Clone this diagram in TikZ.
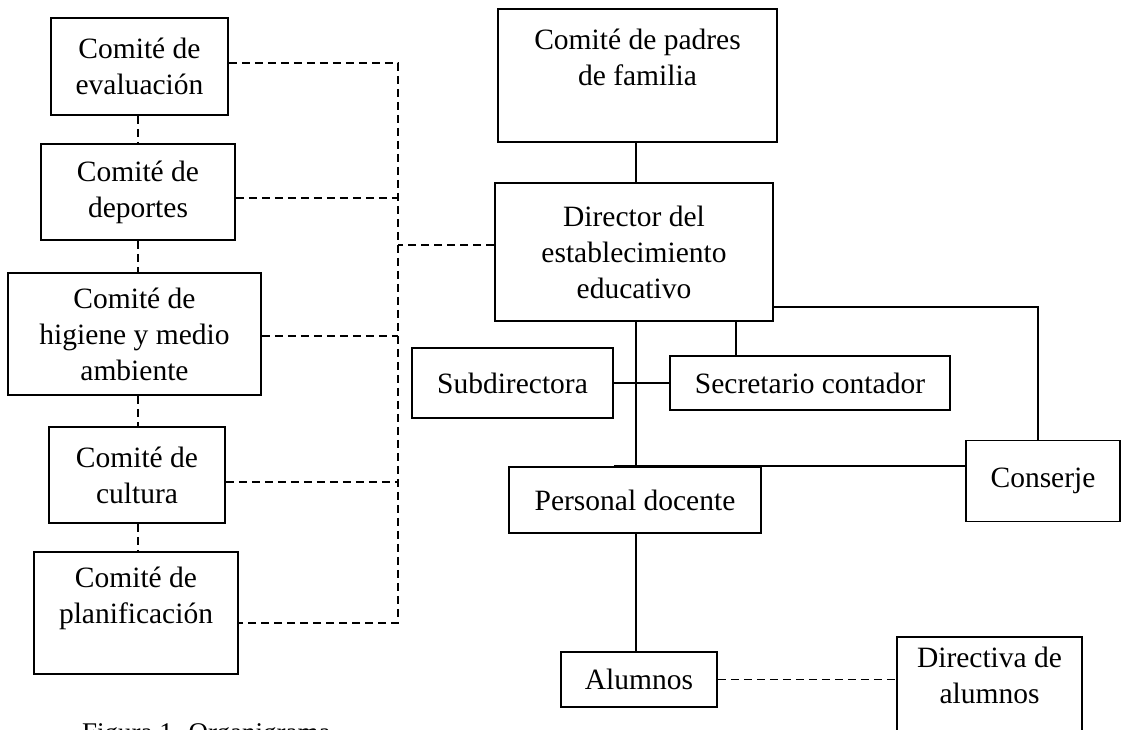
\documentclass[tikz,border=0pt]{standalone}
\usepackage{fontspec}
\setmainfont{Liberation Serif}
\usetikzlibrary{positioning,calc}

\begin{document}
\begin{tikzpicture}[x=1pt,y=-1pt,
    box/.style={draw, line width=1.9pt, align=center, inner sep=0pt, font=\fontsize{29.5}{36}\selectfont},
    sline/.style={line width=2pt},
    dline/.style={line width=1.7pt, dash pattern=on 8pt off 5pt}]
    \useasboundingbox (0,0) rectangle (1138,729);
    \clip (0,0) rectangle (1138,729);

    % Comites (izquierda)
    \node[box, minimum width=177, minimum height=97] (eval) at (139.5,66.5) {Comité de\\evaluación};
    \node[box, minimum width=194, minimum height=96] (dep) at (138,192) {Comité de\\deportes};
    \node[box, minimum width=253, minimum height=122] (hig) at (134.5,334) {Comité de\\higiene y medio\\ambiente};
    \node[box, minimum width=176, minimum height=96] (cult) at (137,475) {Comité de\\cultura};
    \node[box, minimum width=204, minimum height=122] (plan) at (136,613) {Comité de\\planificación\\ \mbox{}};

    % Direccion
    \node[box, minimum width=279, minimum height=133] (padres) at (637.5,75.5) {Comité de padres\\de familia\\ \mbox{}};
    \node[box, minimum width=278, minimum height=138] (dir) at (634,252) {Director del\\establecimiento\\educativo};
    \node[box, minimum width=201, minimum height=70] (sub) at (512.5,383) {Subdirectora};
    \node[box, minimum width=280, minimum height=54] (sec) at (810,383) {Secretario contador};
    \node[box, minimum width=252, minimum height=66] (pers) at (635,500) {Personal docente};
    \node[box, minimum width=154, minimum height=81] (cons) at (1043,481) {Conserje};
    \node[box, minimum width=156, minimum height=55] (alum) at (639,679.5) {Alumnos};
    \node[box, minimum width=185, minimum height=113] (dira) at (989.5,693.5) {Directiva de\\alumnos\\ \mbox{}};

    % Pie de figura
    \node[anchor=base west, inner sep=0pt, font=\fontsize{27}{32}\selectfont] (cap) at (82,741) {Figura 1. Organigrama};

    % Lineas continuas
    \coordinate (trunk) at (636,0);
    \coordinate (sectap) at (736,0);
    \draw[sline] (padres.south -| trunk) -- (dir.north -| trunk);
    \draw[sline] (dir.south -| trunk) -- (pers.north -| trunk);
    \draw[sline] (pers.south -| trunk) -- (alum.north -| trunk);
    \draw[sline] (sub) -- (sec);
    \draw[sline] (dir.south -| sectap) -- (sec.north -| sectap);
    \draw[sline] ([yshift=15pt]dir.south east) -| ([xshift=-5pt]cons.north);
    \draw[sline] (pers.north -| sub.east) -- (pers.north -| cons.west);

    % Lineas punteadas
    \coordinate (colx) at (138,0);
    \coordinate (bus) at (398,0);
    \foreach \a/\b in {eval/dep, dep/hig, hig/cult, cult/plan}
        \draw[dline] (\a.south -| colx) -- (\b.north -| colx);
    \draw[dline] ([yshift=3.5pt]eval.east) -- ([yshift=3.5pt]eval.east -| bus)
        -- ([yshift=-10pt]plan.east -| bus) -- ([yshift=-10pt]plan.east);
    \draw[dline] ([yshift=-6pt]dep.east) -- ([yshift=-6pt]dep.east -| bus);
    \draw[dline] ([yshift=-2pt]hig.east) -- ([yshift=-2pt]hig.east -| bus);
    \draw[dline] ([yshift=-7pt]cult.east) -- ([yshift=-7pt]cult.east -| bus);
    \draw[dline] ([yshift=7pt]dir.west) -- ([yshift=7pt]dir.west -| bus);
    \draw[dline] (alum) -- (alum -| dira.west);
\end{tikzpicture}
\end{document}
